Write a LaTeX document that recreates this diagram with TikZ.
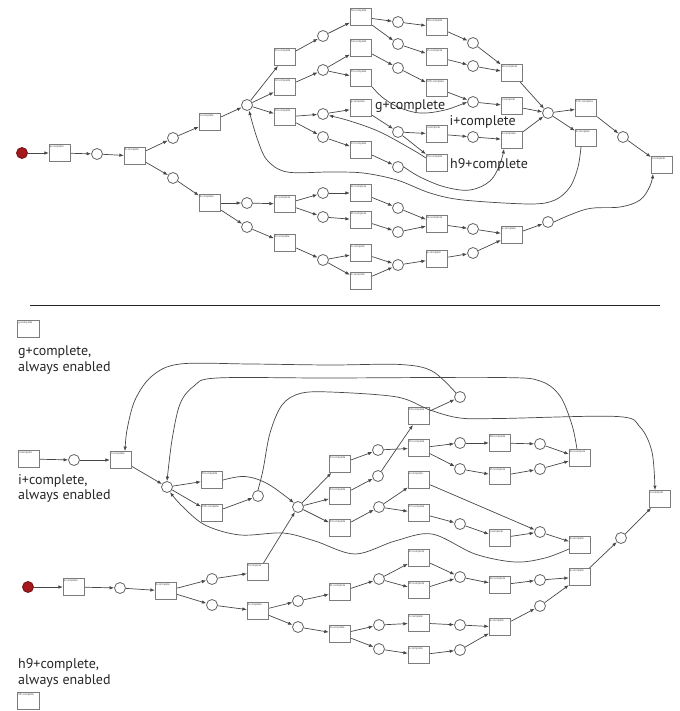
\documentclass[tikz,border=0pt]{standalone}
\usepackage{fontspec}
\setmainfont{PT Sans}
\usetikzlibrary{arrows.meta}
\definecolor{arcc}{HTML}{474747}
\definecolor{boxc}{HTML}{7C7C7C}
\definecolor{startred}{HTML}{A3191C}
\tikzset{
  tr/.style={rectangle, draw=boxc, fill=white, line width=0.8pt,
    minimum width=21.5pt, minimum height=17pt, inner sep=0pt,
    label={[tlab]north west:#1}},
  tlab/.style={anchor=north west, inner sep=0.8pt,
    font=\fontsize{2.8}{3}\selectfont, text=black!75},
  pl/.style={circle, draw=boxc!80!black, fill=white, line width=0.8pt,
    minimum size=11pt, inner sep=0pt},
  startpl/.style={pl, fill=startred, draw=startred!70!black},
  arc/.style={draw=arcc, line width=0.7pt, -{Latex[length=4.5pt,width=3.5pt]}},
  note/.style={font=\fontsize{14}{15.5}\selectfont, anchor=base west,
    inner sep=0pt, align=left, text=black!85},
}
\begin{document}
\begin{tikzpicture}[x=1pt,y=-1pt]
\useasboundingbox (0,0) rectangle (679,711);

% ---------------- upper net ----------------
\node[startpl] (s1) at (22,153) {};
\node[pl] (p1) at (97,154) {};
\node[pl] (p2) at (173,138) {};
\node[pl] (p3) at (173,178) {};
\node[pl] (hub) at (247,105) {};
\node[pl] (pa) at (323,36) {};
\node[pl] (pf) at (323,70) {};
\node[pl] (pj) at (323,114) {};
\node[pl] (pm) at (323,137) {};
\node[pl] (pb) at (398,22) {};
\node[pl] (pd) at (398,44) {};
\node[pl] (pg) at (398,68) {};
\node[pl] (pk) at (398,132) {};
\node[pl] (pn) at (398,167) {};
\node[pl] (pc) at (473,43) {};
\node[pl] (pe) at (473,66) {};
\node[pl] (ph) at (473,102) {};
\node[pl] (pll) at (473,137) {};
\node[pl] (bh) at (548,113) {};
\node[pl] (ps) at (623,137) {};
\node[pl] (pp) at (247,203) {};
\node[pl] (pu) at (247,227) {};
\node[pl] (pq) at (323,193) {};
\node[pl] (pqq) at (323,217) {};
\node[pl] (pv) at (323,260) {};
\node[pl] (pr) at (398,208) {};
\node[pl] (pss) at (398,232) {};
\node[pl] (pw) at (398,265) {};
\node[pl] (pt) at (473,229) {};
\node[pl] (px) at (473,253) {};
\node[pl] (py) at (548,222) {};

\node[tr=a+complete] (B1) at (60,153) {};
\node[tr=b+complete] (B2) at (135,156) {};
\node[tr=c+complete] (A) at (210,122) {};
\node[tr=h1+complete] (T1) at (285,57) {};
\node[tr=h2+complete] (T2) at (285,87) {};
\node[tr=h3+complete] (T3) at (285,117) {};
\node[tr=h6+complete] (Ta) at (361,17) {};
\node[tr=h4+complete] (Tf) at (361,48) {};
\node[tr=h5+complete] (Ti) at (361,78) {};
\node[tr=g+complete] (Tj) at (361,108) {};
\node[tr=h7+complete] (Tm) at (361,150) {};
\node[tr=h8+complete] (Tb) at (437,27) {};
\node[tr=k3+complete] (Td) at (437,57) {};
\node[tr=h10+complete] (Tg) at (437,88) {};
\node[tr=i+complete] (Tk) at (437,134) {};
\node[tr=h9+complete] (Th9) at (437,163) {};
\node[tr=k4+complete] (Tc) at (512,73) {};
\node[tr=j+complete] (Th) at (512,106) {};
\node[tr=e+complete] (Tl) at (512,140) {};
\node[tr=h11+complete] (Tq) at (586,108) {};
\node[tr=d+complete] (Tr) at (586,138) {};
\node[tr=l+complete] (End) at (662,165) {};
\node[tr=k+complete] (Tlow) at (210,203) {};
\node[tr=k1+complete] (Tp) at (285,204) {};
\node[tr=m+complete] (Tu) at (285,243) {};
\node[tr=k2+complete] (Tq1) at (361,193) {};
\node[tr=k5+complete] (Tq2) at (361,220) {};
\node[tr=n+complete] (Tv1) at (361,253) {};
\node[tr=o+complete] (Tv2) at (361,281) {};
\node[tr=k6+complete] (Tr1) at (437,224) {};
\node[tr=p+complete] (Tw) at (437,259) {};
\node[tr=q+complete] (Tt) at (512,235) {};

\foreach \a/\b in {s1/B1, B1/p1, p1/B2, B2/p2, B2/p3, p2/A, A/hub,
  hub/T1, hub/T2, hub/T3, T1/pa, pa/Ta, Ta/pb, Ta/pd, pb/Tb, pd/Td,
  Tb/pc, Td/pe, pc/Tc, pe/Tc, T2/pf, pf/Tf, pf/Ti, Tf/pg, pg/Tg, Tg/ph,
  ph/Th, T3/pj, T3/pm, pj/Tj, Tj/pk, pk/Tk, pk/Th9, Tk/pll, pll/Tl,
  pm/Tm, Tm/pn, Tc/bh, Th/bh, Tl/bh, bh/Tq, bh/Tr, Tq/ps, ps/End,
  p3/Tlow, Tlow/pp, Tlow/pu, pp/Tp, Tp/pq, Tp/pqq, pq/Tq1, pqq/Tq2,
  Tq1/pr, Tq2/pss, pr/Tr1, pss/Tr1, Tr1/pt, pt/Tt, pu/Tu, Tu/pv,
  pv/Tv1, pv/Tv2, Tv1/pw, Tv2/pw, pw/Tw, Tw/px, px/Tt, Tt/py}
  \draw[arc] (\a) -- (\b);

\draw[arc] plot[smooth, tension=0.6] coordinates {(Ti.south east) (382,97) (398,107) (420,113) (445,110) (ph.west)};
\draw[arc] plot[smooth, tension=0.6] coordinates {([yshift=5pt]Th9.west) (413,150) (380,132) (350,121) (pj.-15)};
\draw[arc] plot[smooth, tension=0.6] coordinates {(pn.east) (420,177) (445,187) (470,190) (490,181) (500,164) ([xshift=-8pt]Tl.south)};
\draw[arc] plot[smooth, tension=0.55] coordinates {([xshift=-5pt]Tr.south) (578,167) (570,187) (555,200) (530,204) (463,200) (430,193) (397,180) (363,173) (330,172) (287,172) (267,160) (257,138) (hub.-70)};
\draw[arc] plot[smooth, tension=0.6] coordinates {(py.east) (587,209) (620,207) (640,200) (650,186) ([xshift=-9pt]End.south)};

\node[note] (ng) at (375,109.3) {g+complete};
\node[note] (ni) at (449.3,125.3) {i+complete};
\node[note] (nh) at (450,168.3) {h9+complete};

% ---------------- divider ----------------
\draw[line width=1.1pt, black!85] (30,305.5) -- (660,305.5);

% ---------------- lower net ----------------
% two-line notes: the base anchor sits on the last line
\node[tr=g+complete] (G) at (28.5,329) {};
\node[note] (ng2) at (18,371.2) {g+complete,\\always enabled};
\node[note] (ni2) at (18,499.5) {i+complete,\\always enabled};
\node[note] (nh2) at (18,684) {h9+complete,\\always enabled};
\node[tr=h9+complete] (H9) at (28.5,701) {};

\node[pl] (q1) at (74,460) {};
\node[pl] (h2) at (167,487) {};
\node[pl] (qa) at (258,496) {};
\node[pl] (qh) at (298,507) {};
\node[pl] (q450) at (378,450) {};
\node[pl] (q476) at (378,476) {};
\node[pl] (q507) at (379,507) {};
\node[pl] (q397) at (460,397) {};
\node[pl] (q443) at (460,443) {};
\node[pl] (q469) at (460,469) {};
\node[pl] (q524) at (460,524) {};
\node[pl] (q444) at (540,444) {};
\node[pl] (q469b) at (540,469) {};
\node[pl] (q532) at (540,532) {};
\node[startpl] (s2) at (28,587) {};
\node[pl] (q588) at (120,588) {};
\node[pl] (q579) at (212,579) {};
\node[pl] (q605) at (212,605) {};
\node[pl] (q601) at (298,601) {};
\node[pl] (q627) at (298,627) {};
\node[pl] (r579) at (379,579) {};
\node[pl] (r625) at (379,625) {};
\node[pl] (r649) at (379,649) {};
\node[pl] (r577) at (460,577) {};
\node[pl] (r625b) at (460,625) {};
\node[pl] (r650) at (460,650) {};
\node[pl] (r580) at (540,580) {};
\node[pl] (r606) at (540,606) {};
\node[pl] (r538) at (621,538) {};

\node[tr=i+complete] (I) at (29,459) {};
\node[tr=c+complete] (U) at (121,460) {};
\node[tr=h5+complete] (V1) at (212,480) {};
\node[tr=h10+complete] (V2) at (212,513) {};
\node[tr=h1+complete] (W1) at (340,464) {};
\node[tr=h2+complete] (W2) at (340,496) {};
\node[tr=h3+complete] (W3) at (340,528) {};
\node[tr=h4+complete] (X1) at (419,416) {};
\node[tr=h6+complete] (X2) at (419,448) {};
\node[tr=e+complete] (X3) at (419,480) {};
\node[tr=h7+complete] (X4) at (419,513) {};
\node[tr=h8+complete] (Y1) at (500,443) {};
\node[tr=k3+complete] (Y2) at (500,476) {};
\node[tr=j+complete] (Y3) at (500,538) {};
\node[tr=k4+complete] (Z1) at (580,458) {};
\node[tr=d+complete] (Z2) at (580,545) {};
\node[tr=a+complete] (L1) at (74,587) {};
\node[tr=b+complete] (L2) at (166,591) {};
\node[tr=f+complete] (L3) at (258,572) {};
\node[tr=k+complete] (L4) at (258,611) {};
\node[tr=k1+complete] (L5) at (340,592) {};
\node[tr=m+complete] (L6) at (340,634) {};
\node[tr=k2+complete] (L7) at (419,558) {};
\node[tr=k5+complete] (L8) at (419,590) {};
\node[tr=n+complete] (L9) at (419,623) {};
\node[tr=o+complete] (L10) at (419,655) {};
\node[tr=k6+complete] (L11) at (500,585) {};
\node[tr=p+complete] (L12) at (500,627) {};
\node[tr=q+complete] (L13) at (580,577) {};
\node[tr=l+complete] (E2) at (660,499) {};

\foreach \a/\b in {I/q1, q1/U, U/h2, h2/V1, h2/V2, V2/qa,
  s2/L1, L1/q588, q588/L2, L2/q579, L2/q605, q579/L3, L3/qh, q605/L4,
  L4/q601, L4/q627, qh/W1, qh/W2, qh/W3, W1/q450, W2/q476, W3/q507,
  q450/X2, q476/X1, X1/q397, X2/q443, X2/q469, q443/Y1, q469/Y2,
  Y1/q444, Y2/q469b, q444/Z1, q469b/Z1, q507/X3, q507/X4, X3/q532,
  X4/q524, q524/Y3, Y3/q532, q532/Z2, q601/L5, L5/r579, r579/L7,
  r579/L8, L7/r577, L8/r577, r577/L11, L11/r580, r580/L13, q627/L6,
  L6/r625, L6/r649, r625/L9, r649/L10, L9/r625b, L10/r650, r625b/L12,
  r650/L12, L12/r606, r606/L13, L13/r538, r538/E2}
  \draw[arc] (\a) -- (\b);

\draw[arc] plot[smooth, tension=0.6] coordinates {(V1.east) (245,476.5) (268,484) (qh.north west)};
\draw[arc] plot[smooth, tension=0.55] coordinates {(q397.north west) (432,371) (400,364.5) (330,365) (250,364) (180,364) (152,376) (135,400) (127,430) ([xshift=4pt]U.north)};
\draw[arc] plot[smooth, tension=0.55] coordinates {([xshift=-3pt]Z1.north) (572,425) (560,396) (540,381) (500,377.5) (330,378) (217,378) (194,386) (180,404) (172,440) (h2.north)};
\draw[arc] plot[smooth, tension=0.55] coordinates {(qa.north) (263,470) (270,433) (282,405) (300,393.5) (330,392) (397,397) (430,410) (460,418) (500,418.5) (617,416.5) (640,427) (652,452) ([xshift=-5pt]E2.north)};
\draw[arc] plot[smooth, tension=0.55] coordinates {([yshift=-4pt]Z2.west) (545,558) (515,562) (475,554) (432,534) (395,541) (355,554) (315,541) (283,533) (240,535) (205,525) (182,506) (h2.-60)};
\end{tikzpicture}
\end{document}
